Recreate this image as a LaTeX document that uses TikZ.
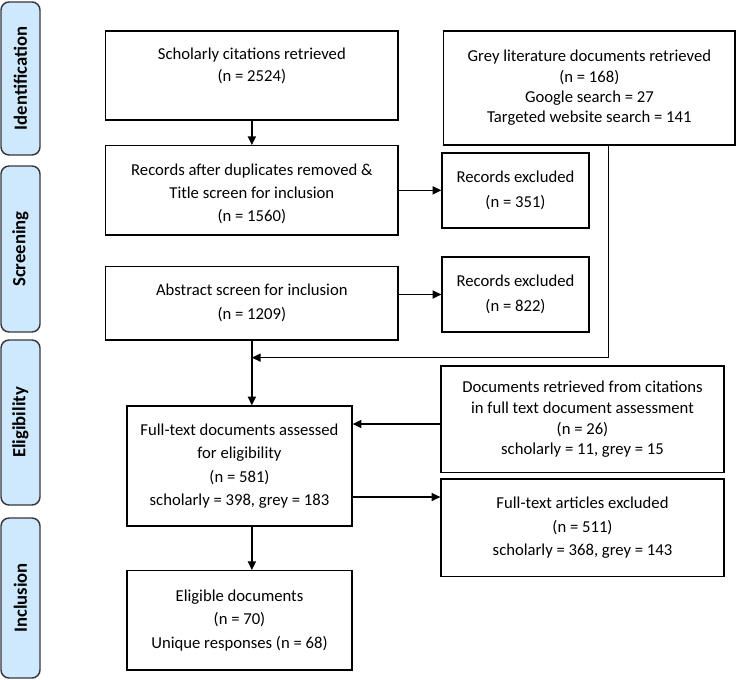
\documentclass[tikz,border=0pt]{standalone}
\usepackage{fontspec}
\setmainfont{Carlito}
\usetikzlibrary{arrows.meta,calc}
\definecolor{tabblue}{RGB}{206,233,253}
\definecolor{tabedge}{RGB}{55,55,60}
\begin{document}
\begin{tikzpicture}[x=0.75pt,y=-0.75pt,
  box/.style n args={3}{draw=black,line width=0.95pt,fill=white,inner sep=0pt,align=center,
    minimum width=#1*0.75pt,minimum height=#2*0.75pt,font=\fontsize{12.5}{#3}\selectfont},
  phase/.style 2 args={draw=tabedge,line width=1.1pt,fill=tabblue,rounded corners=6pt,rotate=90,
    inner sep=0pt,minimum width=#2*0.75pt,minimum height=#1*0.75pt,font=\fontsize{14}{17}\selectfont\bfseries},
  arr/.style={line width=1.1pt,-{Triangle[length=6.5pt,width=6pt]}},
  ln/.style={line width=1.1pt}]
\fill[white] (0,0) rectangle (737,680);
\useasboundingbox (0,0) rectangle (737,680);

% phase tabs
\node[phase={39}{153}] (t1) at (20.5,78.5) {Identification};
\node[phase={39}{166}] (t2) at (20.5,249) {Screening};
\node[phase={39}{165}] (t3) at (20.5,422.5) {Eligibility};
\node[phase={39}{160}] (t4) at (20.5,598) {Inclusion};

% boxes
\node[box={292.3}{89}{16.1pt}] (sch) at (251.85,75.5) {\rule{0pt}{13.2pt}Scholarly citations retrieved\\(n = 2524)\\\strut};
\node[box={291.3}{114}{15.2pt}] (grey) at (589.35,88) {Grey literature documents retrieved\\(n = 168)\\Google search = 27\\Targeted website search = 141};
\node[box={292.3}{89.3}{17.5pt}] (rec) at (251.85,190.35) {\rule{0pt}{14pt}Records after duplicates removed \&\\Title screen for inclusion\\(n = 1560)};
\node[box={147}{75}{18.75pt}] (ex1) at (515.5,190.5) {Records excluded\\(n = 351)};
\node[box={292.3}{73.3}{18pt}] (abs) at (251.85,303.35) {Abstract screen for inclusion\\(n = 1209)};
\node[box={147}{75}{18.75pt}] (ex2) at (515.5,294.5) {Records excluded\\(n = 822)};
\node[box={225}{120}{17.5pt}] (full) at (239.5,466) {Full-text documents assessed\\for eligibility\\(n = 581)\\scholarly = 398, grey = 183};
\node[box={283}{106.7}{15.5pt}] (docs) at (582.5,419.35) {Documents retrieved from citations\\in full text document assessment\\(n = 26)\\scholarly = 11, grey = 15};
\node[box={283}{97.7}{17.5pt}] (ftex) at (582.5,527.85) {Full-text articles excluded\\(n = 511)\\scholarly = 368, grey = 143};
\node[box={225}{99.3}{17.6pt}] (elig) at (239.5,620.35) {Eligible documents\\(n = 70)\\Unique responses (n = 68)};

% helper coordinates
\coordinate (gc) at ($(grey.south)+(19.35,0)$);
\path (abs.south) ++(0,17) coordinate (jn);
\coordinate (d1) at ($(docs.west)+(0,4.65)$);
\coordinate (e1) at ($(full.east)+(0,31)$);

% connectors
\draw[arr] (sch.south) -- (rec.north);
\draw[arr] (rec.east) -- (rec.east -| ex1.west);
\draw[arr] (abs.east |- ex2.west) -- (ex2.west);
\draw[arr] (abs.south) -- (abs.south |- full.north);
\draw[arr] (gc) |- (jn);
\draw[arr] (d1) -- (d1 -| full.east);
\draw[arr] (e1) -- (e1 -| ftex.west);
\draw[arr] (full.south -| jn) -- (elig.north -| jn);
\end{tikzpicture}
\end{document}
